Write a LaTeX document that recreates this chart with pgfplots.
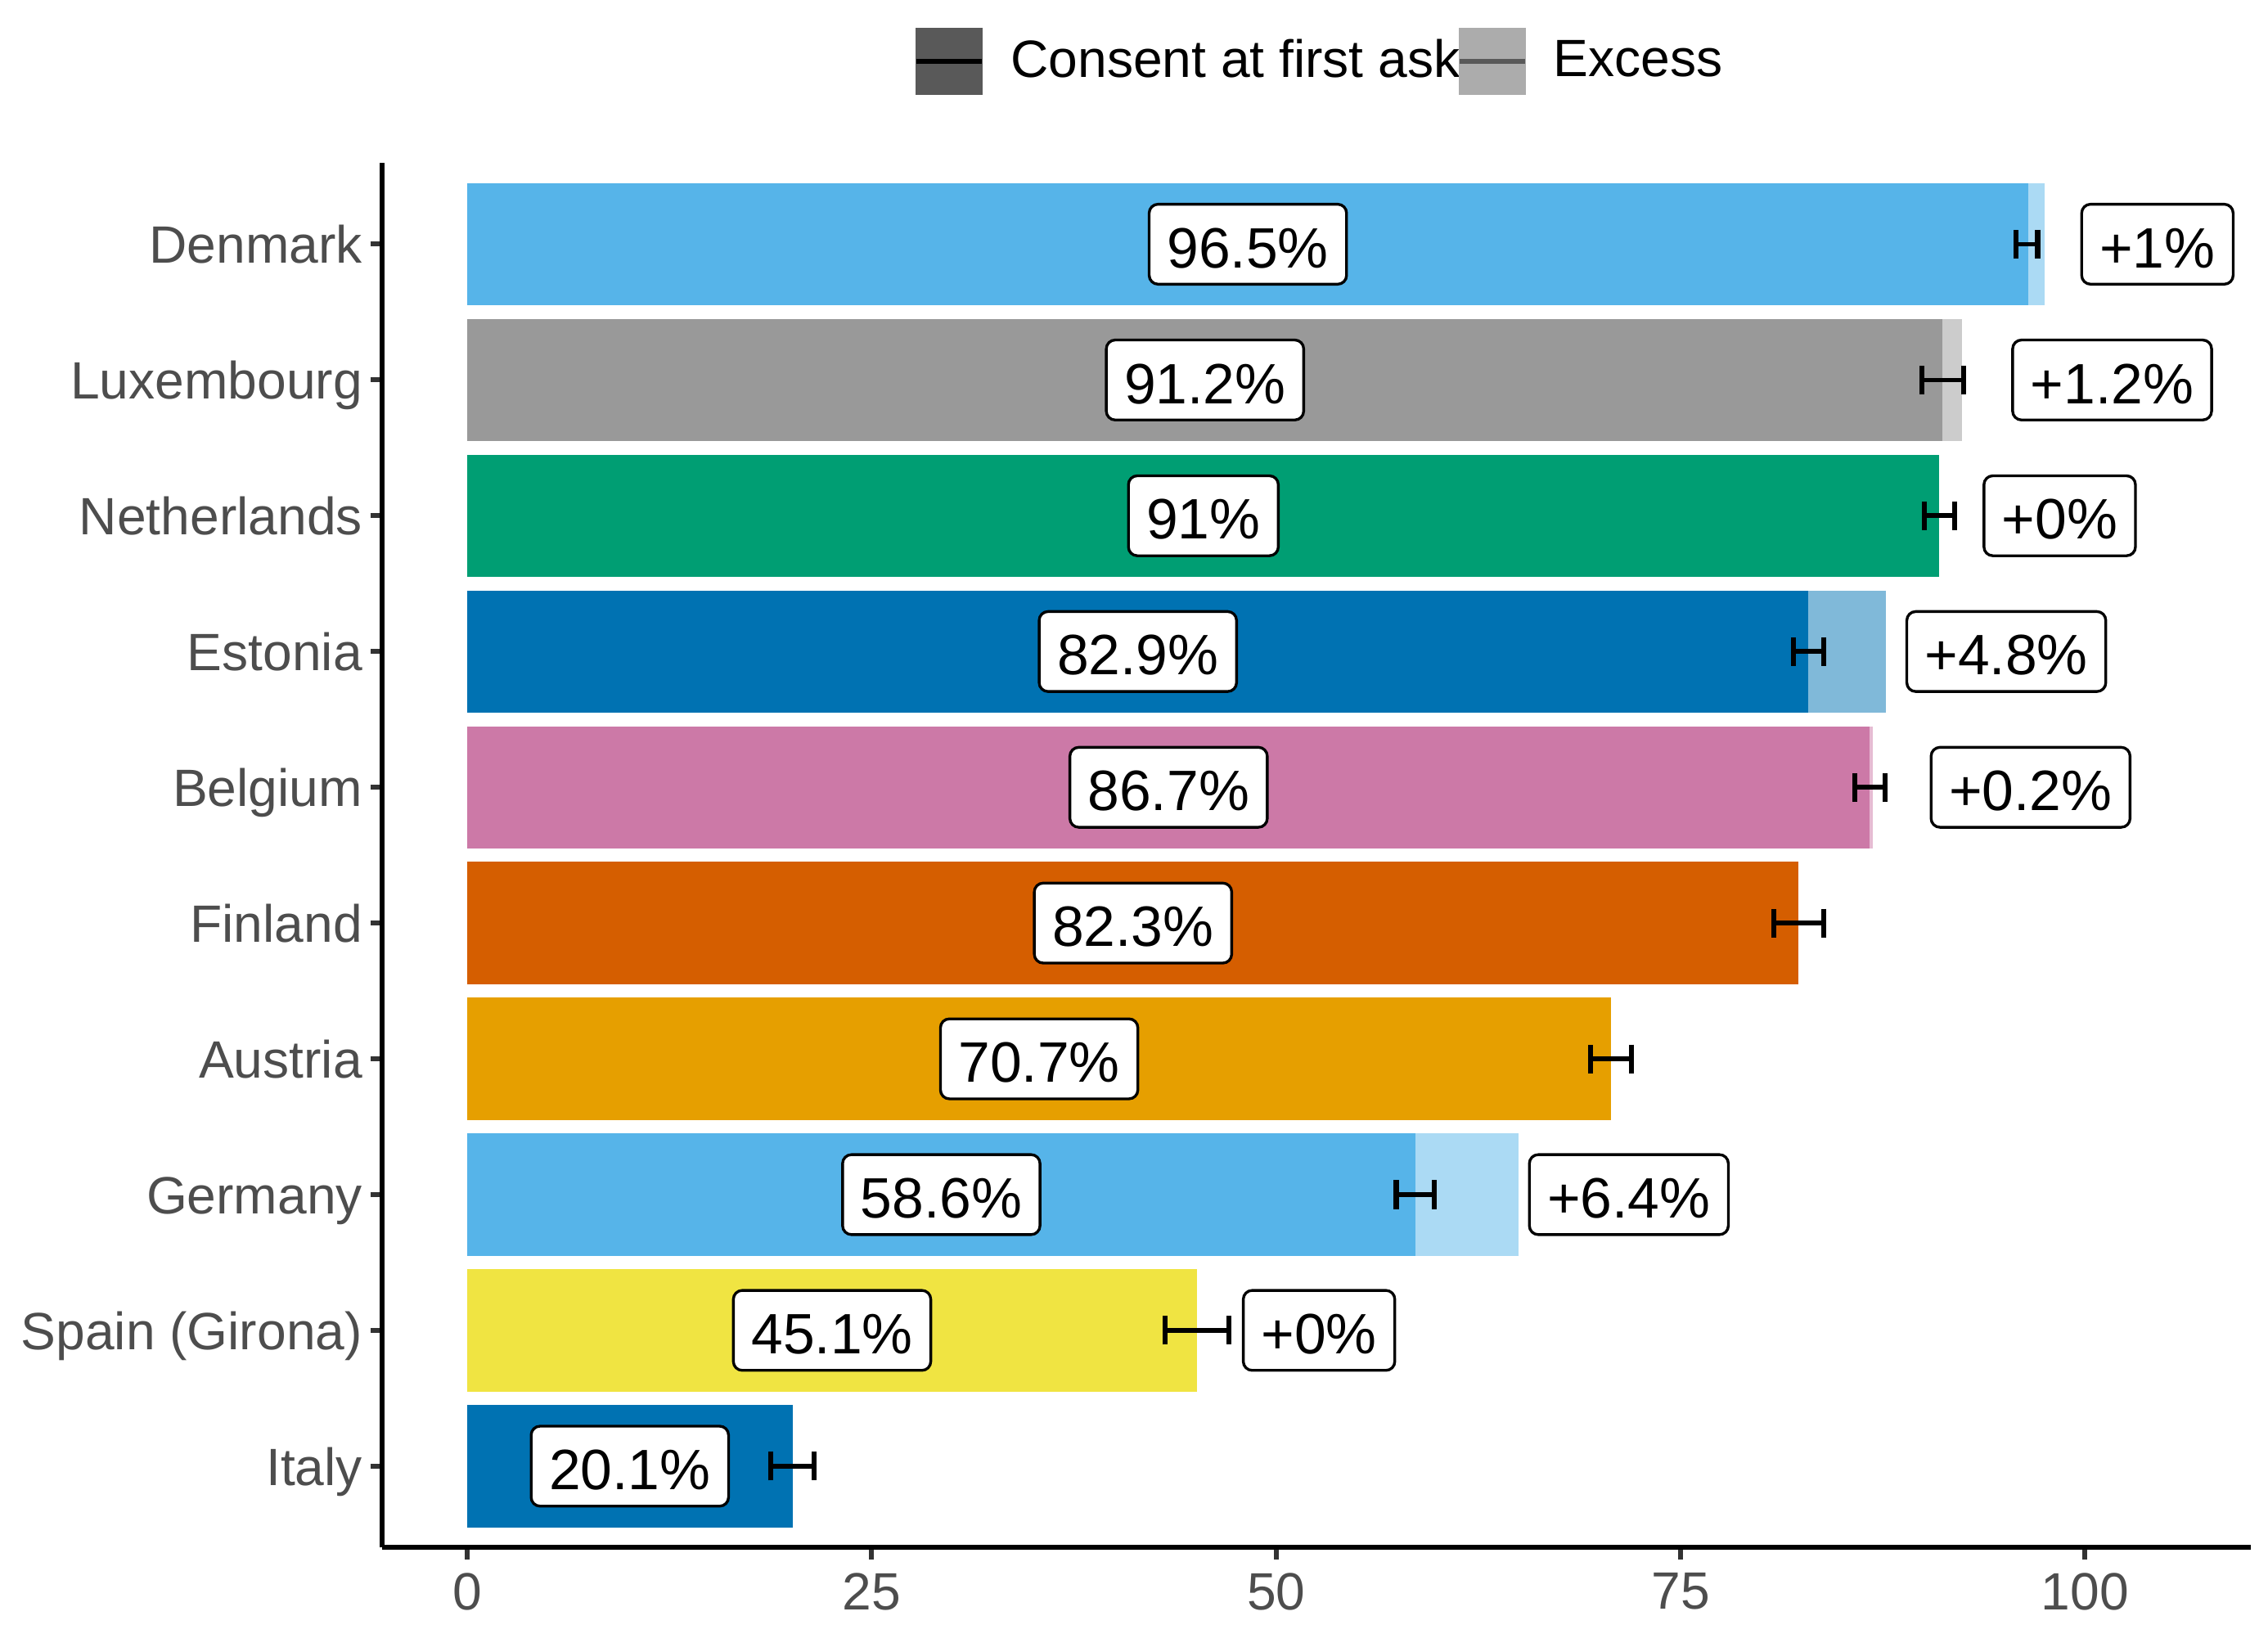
\documentclass[border=0pt]{standalone}
\usepackage{pgfplots}
\pgfplotsset{compat=1.18}
\usepackage{fontspec}
\setmainfont{Liberation Sans}

\definecolor{skyb}{RGB}{86,180,233}
\definecolor{skyl}{RGB}{171,218,244}
\definecolor{greyb}{RGB}{153,153,153}
\definecolor{greyl}{RGB}{204,204,204}
\definecolor{greenb}{RGB}{0,158,115}
\definecolor{blueb}{RGB}{0,114,178}
\definecolor{bluel}{RGB}{128,185,217}
\definecolor{purpb}{RGB}{204,121,167}
\definecolor{purpl}{RGB}{230,188,211}
\definecolor{vermb}{RGB}{213,94,0}
\definecolor{orngb}{RGB}{230,159,0}
\definecolor{yellb}{RGB}{240,228,66}
\definecolor{lgdark}{RGB}{89,89,89}
\definecolor{lglight}{RGB}{172,172,172}
\definecolor{tickc}{RGB}{51,51,51}
\definecolor{labc}{RGB}{77,77,77}

\tikzset{lbl/.style={draw=black, fill=white, rounded corners=2.2pt, line width=0.68pt,
  inner xsep=4.45pt, inner ysep=4.1pt, text height=11.6pt, text depth=0pt,
  font=\fontsize{14.1}{17}\selectfont, text=black, anchor=center}}
\pgfplotsset{bar/.style={xbar, bar shift=0pt, draw=none, forget plot}}

\begin{document}
\begin{tikzpicture}
\begin{axis}[
  at={(0,0)}, anchor=south west,
  scale only axis, width=462.7pt, height=342.9pt,
  xmin=-5.25, xmax=110.25, ymin=0.4, ymax=10.6,
  axis x line=bottom, axis y line=left,
  axis line style={-, line width=1.22pt, black},
  xtick={0,25,50,75,100},
  ytick={1,...,10},
  yticklabels={Italy, Spain (Girona), Germany, Austria, Finland, Belgium, Estonia, Netherlands, Luxembourg, Denmark},
  tick align=outside,
  major tick length=2.94pt,
  tick style={line width=1.22pt, color=tickc},
  ticklabel style={font=\fontsize{13}{15}\selectfont, text=labc},
  yticklabel style={inner xsep=1.8pt, text height=9.4pt, text depth=0pt},
  xticklabel style={inner ysep=3.2pt},
  /pgf/number format/assume math mode=true,
  bar width=0.9,
  clip=false,
  legend style={at={(0.503,1.0732)}, anchor=center, draw=none, fill=none,
    font=\fontsize{13}{15}\selectfont,
    /tikz/every odd column/.append style={column sep=4.4pt},
    /tikz/every even column/.append style={column sep=-2.9pt}},
  legend columns=-1,
  legend cell align=left,
]
% total bars (consent + excess), light
\addplot[bar, fill=skyl] coordinates {(97.5,10)};
\addplot[bar, fill=greyl] coordinates {(92.4,9)};
\addplot[bar, fill=bluel] coordinates {(87.7,7)};
\addplot[bar, fill=purpl] coordinates {(86.9,6)};
\addplot[bar, fill=skyl] coordinates {(65.0,3)};
% consent at first ask
\addplot[bar, fill=skyb] coordinates {(96.5,10)};
\addplot[bar, fill=greyb] coordinates {(91.2,9)};
\addplot[bar, fill=greenb] coordinates {(91.0,8)};
\addplot[bar, fill=blueb] coordinates {(82.9,7)};
\addplot[bar, fill=purpb] coordinates {(86.7,6)};
\addplot[bar, fill=vermb] coordinates {(82.3,5)};
\addplot[bar, fill=orngb] coordinates {(70.7,4)};
\addplot[bar, fill=skyb] coordinates {(58.6,3)};
\addplot[bar, fill=yellb] coordinates {(45.1,2)};
\addplot[bar, fill=blueb] coordinates {(20.1,1)};
% error bars
\addplot[draw=none, mark=none, forget plot,
  error bars/.cd, x dir=both, x explicit, error mark=|,
  error bar style={line width=1.15pt, draw=black, solid},
  error mark options={line width=1.3pt, draw=black, mark size=3.55pt, solid}]
  coordinates {
  (96.4,10) +- (0.66,0)
  (91.2,9) +- (1.3,0)
  (91.0,8) +- (0.94,0)
  (82.9,7) +- (0.94,0)
  (86.7,6) +- (0.94,0)
  (82.3,5) +- (1.53,0)
  (70.7,4) +- (1.26,0)
  (58.6,3) +- (1.17,0)
  (45.1,2) +- (1.98,0)
  (20.1,1) +- (1.35,0)
  };
% consent labels
\addplot[draw=none, mark=none, forget plot, nodes near coords, point meta=explicit symbolic,
  nodes near coords style={lbl}]
  coordinates {
  (48.25,10) [96.5\%]
  (45.6,9) [91.2\%]
  (45.5,8) [91\%]
  (41.45,7) [82.9\%]
  (43.35,6) [86.7\%]
  (41.15,5) [82.3\%]
  (35.35,4) [70.7\%]
  (29.3,3) [58.6\%]
  (22.55,2) [45.1\%]
  (10.05,1) [20.1\%]
  };
% excess labels
\addplot[draw=none, mark=none, forget plot, nodes near coords, point meta=explicit symbolic,
  nodes near coords style={lbl}]
  coordinates {
  (104.47,10) [+1\%]
  (101.67,9) [+1.2\%]
  (98.43,8) [+0\%]
  (95.13,7) [+4.8\%]
  (96.63,6) [+0.2\%]
  (71.8,3) [+6.4\%]
  (52.65,2) [+0\%]
  };
\addlegendimage{legend image code/.code={
  \fill[lgdark] (0pt,-8.1pt) rectangle (16.2pt,8.1pt);
  \draw[black, line width=1.4pt] (0pt,0pt) -- (16.2pt,0pt);}}
\addlegendentry{Consent at first ask}
\addlegendimage{legend image code/.code={
  \fill[lglight] (0pt,-8.1pt) rectangle (16.2pt,8.1pt);
  \draw[lgdark, line width=1.4pt] (0pt,0pt) -- (16.2pt,0pt);}}
\addlegendentry{Excess}
\end{axis}
\pgfresetboundingbox
\path (-94.67pt,-21.2pt) rectangle (466.93pt,383.2pt);
\end{tikzpicture}
\end{document}
